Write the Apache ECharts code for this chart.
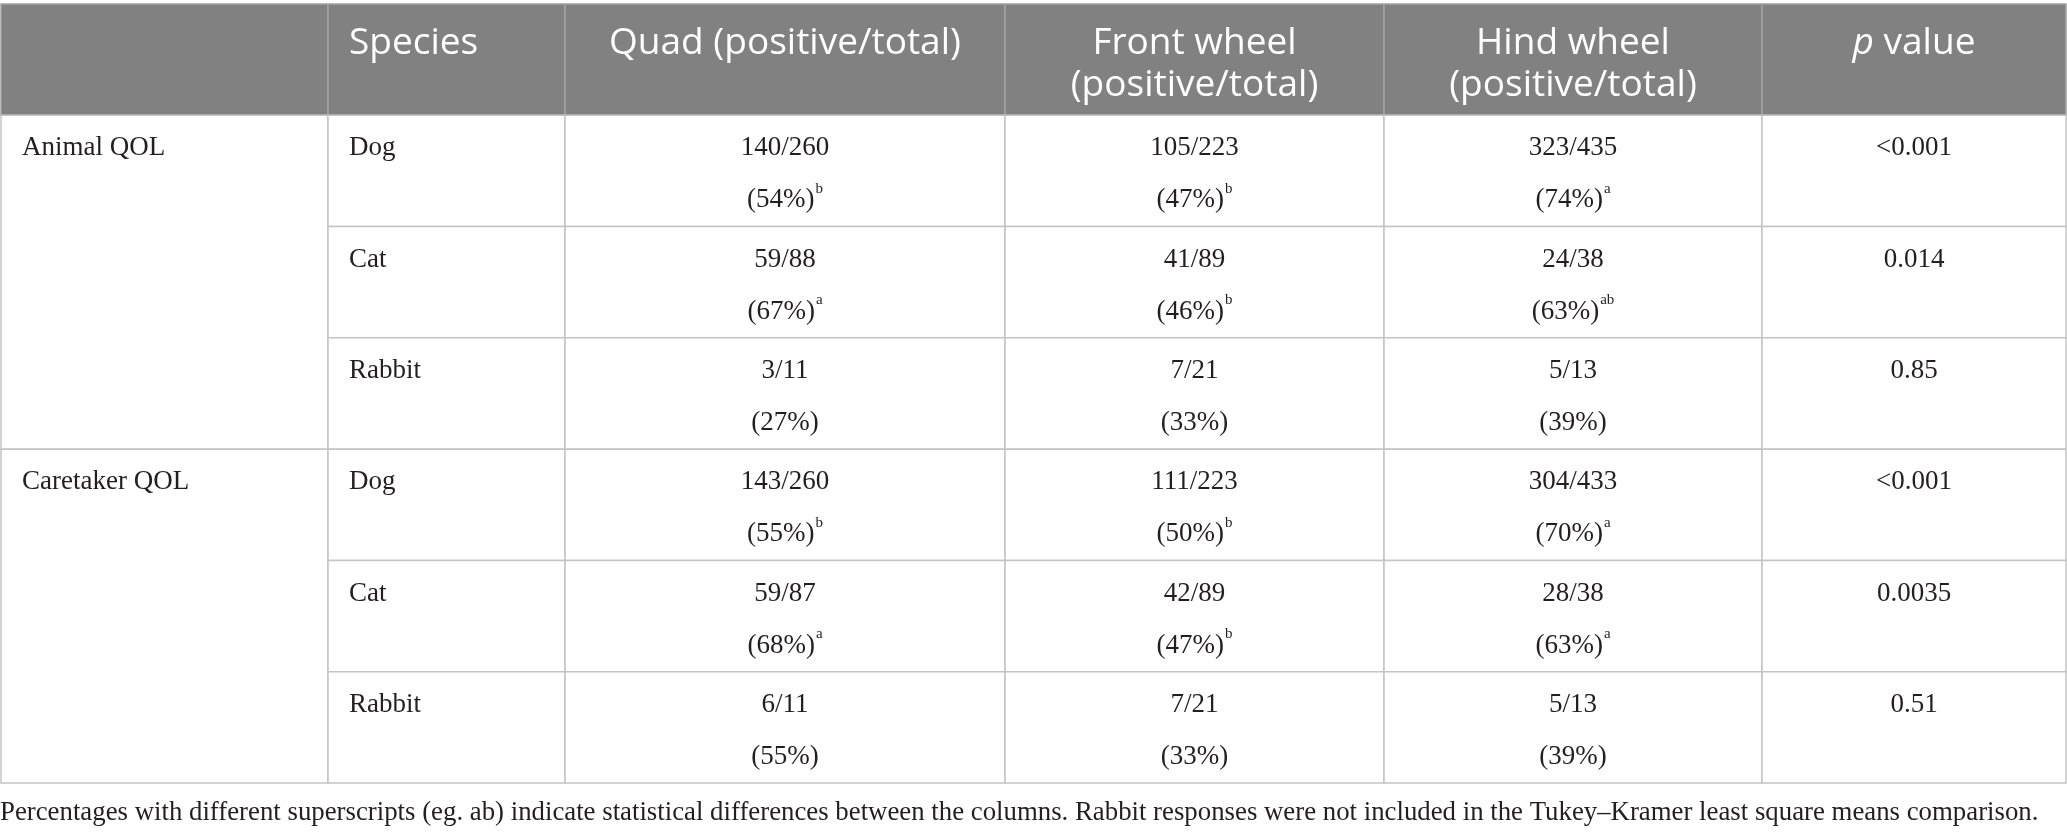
<!DOCTYPE html>
<html lang="en">
<head>
    <meta charset="UTF-8">
    <title>QOL table</title>
    <script src="https://cdn.jsdelivr.net/npm/echarts@6/dist/echarts.min.js"></script>
    <style>
        html, body { margin: 0; padding: 0; background: #fff; }
    </style>
</head>
<body>
<div id="main" style="width: 2067px;height:835px;"></div>
<script type="text/javascript">
    // table content
    var headerLabels = ['', 'Species', 'Quad (positive/total)', 'Front wheel\n(positive/total)', 'Hind wheel\n(positive/total)', '{it|p} value'];
    var groups = ['Animal QOL', 'Caretaker QOL'];
    var species = ['Dog', 'Cat', 'Rabbit'];

    // [Quad, Front wheel, Hind wheel] per species
    var animalPositive = [[140, 105, 323], [59, 41, 24], [3, 7, 5]];
    var animalTotal = [[260, 223, 435], [88, 89, 38], [11, 21, 13]];
    var animalPct = [[54, 47, 74], [67, 46, 63], [27, 33, 39]];
    var animalSup = [['b', 'b', 'a'], ['a', 'b', 'ab'], ['', '', '']];
    var animalP = ['<0.001', '0.014', '0.85'];

    var caretakerPositive = [[143, 111, 304], [59, 42, 28], [6, 7, 5]];
    var caretakerTotal = [[260, 223, 433], [87, 89, 38], [11, 21, 13]];
    var caretakerPct = [[55, 50, 70], [68, 47, 63], [55, 33, 39]];
    var caretakerSup = [['b', 'b', 'a'], ['a', 'b', 'a'], ['', '', '']];
    var caretakerP = ['<0.001', '0.0035', '0.51'];

    var footnote = 'Percentages with different superscripts (eg. ab) indicate statistical differences between the columns. Rabbit responses were not included in the Tukey\u2013Kramer least square means comparison.';

    // layout (column edges in x-axis units, one row = 1 y unit)
    var colEdges = [0, 327, 564, 1004, 1383, 1761, 2065];
    var colAlign = ['left', 'left', 'center', 'center', 'center', 'center'];
    var padLeft = 21;

    var groupData = [
        [animalPositive, animalTotal, animalPct, animalSup, animalP],
        [caretakerPositive, caretakerTotal, caretakerPct, caretakerSup, caretakerP]
    ];

    // cells: [col, row, rowSpan] + text kept alongside
    var cells = [];
    for (var c = 0; c < headerLabels.length; c++) {
        cells.push({ value: [c, 0, 1], text: headerLabels[c], header: true });
    }
    for (var g = 0; g < groups.length; g++) {
        var r0 = 1 + g * species.length;
        var d = groupData[g];
        cells.push({ value: [0, r0, species.length], text: groups[g] });
        for (var s = 0; s < species.length; s++) {
            var row = r0 + s;
            cells.push({ value: [1, row, 1], text: species[s] });
            for (var k = 0; k < 3; k++) {
                var t = d[0][s][k] + '/' + d[1][s][k] + '\n(' + d[2][s][k] + '%)';
                if (d[3][s][k]) t += '{sup|' + d[3][s][k] + '}';
                cells.push({ value: [2 + k, row, 1], text: t });
            }
            cells.push({ value: [5, row, 1], text: d[4][s] });
        }
    }

    var myChart = echarts.init(document.getElementById('main'));

    function renderCell(params, api) {
        var cell = cells[params.dataIndex];
        var col = api.value(0), row = api.value(1), span = api.value(2);
        var p0 = api.coord([colEdges[col], row]);
        var p1 = api.coord([colEdges[col + 1], row + span]);
        var w = p1[0] - p0[0], h = p1[1] - p0[1];
        var align = colAlign[col];
        var tx = align === 'left' ? p0[0] + padLeft : p0[0] + w / 2;
        var textEl;
        if (cell.header) {
            textEl = {
                type: 'text',
                x: tx, y: p0[1] + 18,
                style: {
                    text: cell.text,
                    fill: '#ffffff',
                    font: '37px "Open Sans"',
                    align: align,
                    verticalAlign: 'top',
                    lineHeight: 42,
                    rich: {
                        it: { fontStyle: 'italic', fontFamily: 'Open Sans', fontSize: 37, fill: '#ffffff', lineHeight: 42 }
                    }
                }
            };
        } else {
            textEl = {
                type: 'text',
                x: tx, y: p0[1] + 7,
                style: {
                    text: cell.text,
                    fill: '#231f20',
                    font: '27px "Liberation Serif"',
                    align: align,
                    verticalAlign: 'top',
                    lineHeight: 52,
                    rich: {
                        sup: { fontSize: 15, fontFamily: 'Liberation Serif', fill: '#231f20', verticalAlign: 'top', lineHeight: 52, padding: [7, 0, 0, 1] }
                    }
                }
            };
        }
        return {
            type: 'group',
            children: [{
                type: 'rect',
                shape: { x: p0[0], y: p0[1], width: w, height: h },
                style: {
                    fill: cell.header ? '#808180' : '#ffffff',
                    stroke: cell.header ? '#a3a3a3' : '#c4c4c4',
                    lineWidth: 1.5
                }
            }, textEl]
        };
    }

    var option = {
        backgroundColor: '#fff',
        animation: false,
        title: {
            text: footnote,
            left: 0,
            top: 799,
            padding: 0,
            textStyle: {
                fontFamily: 'Liberation Serif',
                fontSize: 26.8,
                fontWeight: 'normal',
                color: '#231f20'
            }
        },
        grid: { left: 1, right: 1, top: 4, bottom: 52 },
        xAxis: { type: 'value', min: 0, max: 2065, show: false },
        yAxis: { type: 'value', min: 0, max: 7, inverse: true, show: false },
        series: [{
            type: 'custom',
            clip: false,
            renderItem: renderCell,
            data: cells.map(function (c) { return c.value; })
        }]
    };

    myChart.setOption(option);
</script>
</body>
</html>
